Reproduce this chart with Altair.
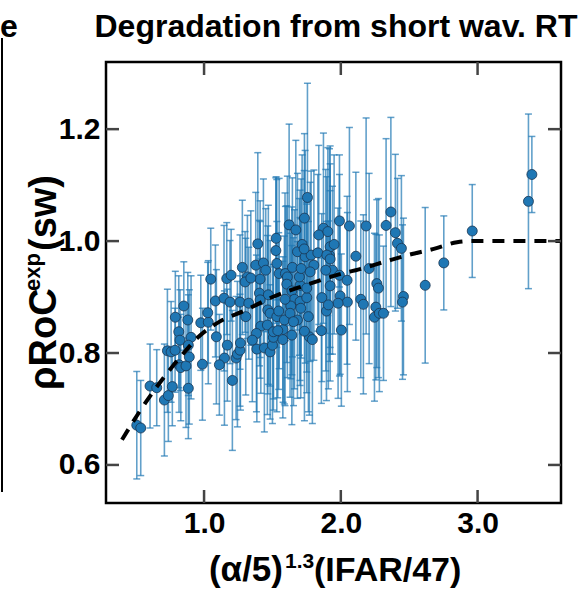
import altair as alt
import pandas as pd

# ---- measured points: x = (alpha/5)^1.3 (IFAR/47), y = rho RoC^exp(sw), err = 1-sigma ----
x_vals = [
    0.508, 0.537, 0.605, 0.654, 0.710, 0.739, 0.768, 0.885, 0.732, 0.759, 0.788, 0.817,
    0.830, 0.868, 0.790, 0.852, 0.815, 0.824, 0.881, 0.905, 0.885, 0.892,
    0.988, 0.976, 1.031, 1.027, 1.090, 1.083, 1.146, 1.190, 1.049, 1.166, 1.198, 1.280,
    1.317, 1.300, 1.170, 1.149, 1.112, 1.207, 1.234, 1.244, 1.263, 1.266, 1.305, 1.263, 1.327,
    1.393, 1.378, 1.434, 1.451, 1.410, 1.342, 1.405, 1.470, 1.415, 1.383, 1.353, 1.386,
    1.441, 1.483, 1.500, 1.507, 1.463, 1.507, 1.466, 1.483, 1.532, 1.546, 1.578, 1.587,
    1.576, 1.527, 1.525, 1.532, 1.549, 1.595, 1.609, 1.646, 1.605, 1.642, 1.622, 1.671,
    1.683, 1.661, 1.634, 1.629, 1.683, 1.539, 1.642, 1.592, 1.654, 1.410,
    1.702, 1.697, 1.710, 1.739, 1.783, 1.803, 1.832, 1.917, 1.702, 1.763, 1.770, 1.734,
    1.792, 1.858, 1.895, 1.861, 1.922, 1.939, 1.990, 1.995, 2.048, 2.004, 2.046, 1.751,
    1.707, 1.756, 1.734, 1.717, 1.732, 1.873, 1.839, 1.905, 1.922, 1.951, 1.898, 1.922,
    1.776, 1.890, 1.990, 1.751, 1.980, 1.909,
    2.063, 2.185, 2.331, 2.366, 2.399, 2.414, 2.443, 2.110, 2.207, 2.263, 2.275, 2.146,
    2.165, 2.256, 2.246, 2.282, 2.312, 2.458, 2.451,
    2.617, 2.753, 2.961, 3.372, 3.397,
]
y_vals = [
    0.671, 0.666, 0.741, 0.738, 0.716, 0.724, 0.740, 0.737, 0.804, 0.802, 0.805, 0.779,
    0.774, 0.777, 0.864, 0.884, 0.838, 0.823, 0.859, 0.828, 0.814, 0.793,
    0.780, 0.854, 0.855, 0.872, 0.829, 0.893, 0.898, 0.891, 0.932, 0.933, 0.939, 0.953,
    0.936, 0.927, 0.814, 0.791, 0.779, 0.751, 0.791, 0.798, 0.805, 0.818, 0.865, 0.891, 0.889,
    0.995, 0.957, 0.961, 0.948, 0.932, 0.934, 0.907, 0.904, 0.848, 0.835, 0.823, 0.807,
    0.809, 0.802, 0.814, 0.828, 0.850, 0.838, 0.877, 0.871, 0.865, 0.875, 0.842, 0.859,
    0.824, 1.005, 0.983, 0.960, 0.942, 0.942, 0.936, 0.953, 0.923, 0.911, 1.029, 1.020,
    0.981, 0.896, 0.884, 0.871, 0.859, 0.840, 0.832, 0.896, 0.856, 0.895,
    0.921, 0.936, 0.951, 0.972, 0.975, 0.957, 0.979, 0.975, 0.892, 0.865, 0.829, 0.839,
    0.824, 0.840, 0.875, 0.899, 0.920, 0.948, 0.939, 0.902, 0.891, 0.841, 0.930, 0.899,
    0.880, 1.078, 1.041, 0.994, 0.986, 1.023, 1.011, 1.017, 0.990, 0.994, 0.975, 0.968,
    0.945, 0.948, 1.036, 0.916, 0.889, 0.886,
    1.027, 1.027, 1.028, 1.052, 1.015, 0.996, 0.987, 0.973, 0.951, 0.924, 0.916, 0.896,
    0.887, 0.882, 0.864, 0.871, 0.871, 0.901, 0.891,
    0.921, 0.961, 1.018, 1.071, 1.119,
]
err_vals = [
    0.096, 0.085, 0.075, 0.068, 0.100, 0.082, 0.070, 0.090, 0.110, 0.090, 0.075, 0.085,
    0.095, 0.110, 0.082, 0.079, 0.100, 0.090, 0.085, 0.110, 0.090, 0.120,
    0.100, 0.085, 0.110, 0.090, 0.120, 0.100, 0.130, 0.110, 0.091, 0.100, 0.082, 0.120,
    0.110, 0.090, 0.100, 0.120, 0.090, 0.125, 0.110, 0.130, 0.100, 0.120, 0.140, 0.120, 0.100,
    0.163, 0.130, 0.150, 0.110, 0.140, 0.120, 0.130, 0.160, 0.120, 0.140, 0.110, 0.130,
    0.150, 0.120, 0.140, 0.130, 0.160, 0.120, 0.150, 0.130, 0.170, 0.140, 0.130, 0.150,
    0.140, 0.110, 0.130, 0.150, 0.170, 0.120, 0.180, 0.160, 0.140, 0.150, 0.180, 0.160,
    0.140, 0.160, 0.130, 0.150, 0.140, 0.120, 0.160, 0.190, 0.150, 0.140,
    0.170, 0.140, 0.160, 0.190, 0.150, 0.170, 0.140, 0.190, 0.150, 0.170, 0.140, 0.160,
    0.150, 0.130, 0.160, 0.150, 0.170, 0.150, 0.180, 0.140, 0.160, 0.136, 0.150, 0.170,
    0.160, 0.204, 0.151, 0.160, 0.140, 0.170, 0.160, 0.150, 0.180, 0.160, 0.140, 0.170,
    0.160, 0.180, 0.118, 0.150, 0.170, 0.150,
    0.176, 0.193, 0.155, 0.169, 0.140, 0.116, 0.130, 0.150, 0.170, 0.150, 0.160, 0.140,
    0.160, 0.130, 0.150, 0.140, 0.120, 0.140, 0.138,
    0.139, 0.084, 0.083, 0.156, 0.068,
]

# ---- expected degradation curve (dashed) ----
curve_x = [0.40, 0.53, 0.82, 0.96, 1.12, 1.29, 1.51, 1.74, 1.98, 2.14, 2.32, 2.49,
           2.68, 2.85, 2.95, 3.61]
curve_y = [0.645, 0.696, 0.791, 0.829, 0.857, 0.875, 0.901, 0.921, 0.940, 0.950,
           0.963, 0.975, 0.986, 0.998, 1.000, 1.000]

x_ticks = [1.0, 2.0, 3.0]
y_ticks = [0.6, 0.8, 1.0, 1.2]
x_domain = [0.283, 3.61]
y_domain = [0.532, 1.32]

FONT = "Liberation Sans"
BLUE = "#1f77b4"
W, H = 455, 441
TICK_LEN = 13

points = pd.DataFrame({"x": x_vals, "y": y_vals, "err": err_vals})
curve = pd.DataFrame({"x": curve_x, "y": curve_y})
xt = pd.DataFrame({"x": x_ticks})
yt = pd.DataFrame({"y": y_ticks})
one = pd.DataFrame({"k": [0]})

xs = alt.Scale(domain=x_domain, nice=False, zero=False)
ys = alt.Scale(domain=y_domain, nice=False, zero=False)

x_axis = alt.Axis(values=x_ticks, format=".1f", title=None, grid=False, domain=False,
                  ticks=False, labelPadding=5, labelFontSize=30, labelFont=FONT,
                  labelFontWeight="bold", labelColor="black", labelBaseline="top")
y_axis = alt.Axis(values=y_ticks, format=".1f", title=None, grid=False, domain=False,
                  ticks=False, labelPadding=6, labelFontSize=30, labelFont=FONT,
                  labelFontWeight="bold", labelColor="black")


def X(field):
    return alt.X(field, type="quantitative", scale=xs, axis=x_axis, title=None)


def Y(field):
    return alt.Y(field, type="quantitative", scale=ys, axis=y_axis, title=None)


base = alt.Chart(points).transform_calculate(
    lo="datum.y - datum.err", hi="datum.y + datum.err"
)

bar_style = dict(color=BLUE, opacity=0.7, clip=True)
bars = base.mark_rule(strokeWidth=1.6, **bar_style).encode(x=X("x"), y=Y("lo"), y2="hi:Q")
cap_lo = base.mark_tick(orient="horizontal", size=7, thickness=1.5, **bar_style).encode(
    x=X("x"), y=Y("lo"))
cap_hi = base.mark_tick(orient="horizontal", size=7, thickness=1.5, **bar_style).encode(
    x=X("x"), y=Y("hi"))

dots = alt.Chart(points).mark_circle(size=100, color=BLUE, opacity=1, stroke="#1a3550",
                                     strokeWidth=0.8, clip=True).encode(x=X("x"), y=Y("y"))

fit = alt.Chart(curve).mark_line(color="black", strokeWidth=4, strokeDash=[12, 9],
                                 interpolate="monotone", clip=True).encode(
    x=X("x"), y=Y("y"))

# inward ticks on all four sides of the frame
tick_style = dict(color="#444444", strokeWidth=2.5)
t_bottom = alt.Chart(xt).mark_rule(**tick_style).encode(
    x=X("x"), y=alt.value(H), y2=alt.value(H - TICK_LEN))
t_top = alt.Chart(xt).mark_rule(**tick_style).encode(
    x=X("x"), y=alt.value(0), y2=alt.value(TICK_LEN))
t_left = alt.Chart(yt).mark_rule(**tick_style).encode(
    y=Y("y"), x=alt.value(0), x2=alt.value(TICK_LEN))
t_right = alt.Chart(yt).mark_rule(**tick_style).encode(
    y=Y("y"), x=alt.value(W), x2=alt.value(W - TICK_LEN))


def label(text, x, y, size, angle=0, align="left", baseline="alphabetic"):
    kw = dict(text=text, font=FONT, fontWeight="bold", fontSize=size, color="black",
              align=align, baseline=baseline)
    if angle:
        kw["angle"] = angle
    return alt.Chart(one).mark_text(**kw).encode(x=alt.value(x), y=alt.value(y))


texts = [
    # panel title
    label("Degradation from short wav. RT", 230, -25, 32, align="center"),
    # edge of the neighbouring panel's title
    label("e", -106, -25, 32),
    # x-axis title: (α/5)^1.3 (IFAR/47)
    label("(α/5)", 177, 519, 35, align="right"),
    label("1.3", 179, 506, 21),
    label("(IFAR/47)", 208, 519, 34),
    # y-axis title: ρRoC^exp(sw), reading upward
    label("ρRoC", -50, 328, 38, angle=270),
    label("exp", -66, 229, 22, angle=270),
    label("(sw)", -50, 189, 38, angle=270),
]

# frame line of the neighbouring panel on the left edge
left_edge = alt.Chart(one).mark_rule(color="black", strokeWidth=2).encode(
    x=alt.value(-104), x2=alt.value(-104), y=alt.value(-24), y2=alt.value(430))

chart = alt.layer(
    bars, cap_lo, cap_hi, dots, fit, t_bottom, t_top, t_left, t_right, left_edge, *texts
).properties(
    width=W, height=H,
    background="white",
    autosize=alt.AutoSizeParams(type="none"),
    padding={"left": 106, "top": 62, "right": 21, "bottom": 87},
).configure_view(
    stroke="black", strokeWidth=2.5
)

chart.save("out.html", embed_options={"renderer": "svg", "actions": False})
